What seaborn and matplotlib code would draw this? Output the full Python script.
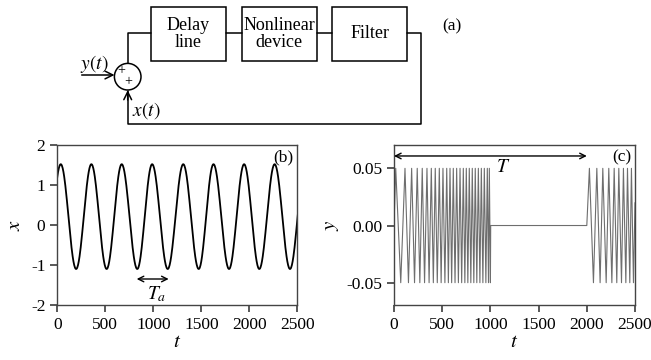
import numpy as np
import pandas as pd
import matplotlib
matplotlib.use("Agg")
import matplotlib.pyplot as plt
from matplotlib.patches import Rectangle, Circle
import seaborn as sns

# ---------------- data ----------------
# panel (b): extrema of x(t) (times and values); virtual extrema just outside [0, 2500]
tb_ext = [-124, 36, 196, 355, 514, 671, 833, 988, 1150, 1312, 1473, 1627, 1789, 1946, 2104, 2264, 2424, 2582]
xb_ext = [-1.10, 1.52, -1.10, 1.52, -1.10, 1.52, -1.10, 1.52, -1.10, 1.52, -1.10, 1.52, -1.10, 1.52, -1.10, 1.52, -1.10, 1.52]

# panel (c): sampled chirp bursts, turning points (t, y)
tc_pts = [0, 18, 70, 114, 150, 183, 213, 241, 268, 293, 317, 342, 364, 387, 408, 428, 449,
          470, 489, 508, 528, 547, 564, 581, 598, 615, 633, 650, 668, 685, 702, 719, 735,
          750, 766, 781, 797, 812, 828, 843, 859, 875, 891, 906, 922, 937, 953, 968, 980,
          989, 1000, 1003, 2000, 2027, 2069, 2104, 2138, 2166, 2201, 2228, 2260, 2284, 2311,
          2332, 2360, 2380, 2405, 2422, 2446, 2463, 2484, 2500]
yc_pts = [0.0, 0.05, -0.05, 0.05, -0.05, 0.05, -0.05, 0.05, -0.05, 0.05, -0.05, 0.05, -0.05,
          0.05, -0.05, 0.05, -0.05, 0.05, -0.05, 0.05, -0.05, 0.05, -0.05, 0.05, -0.05, 0.05,
          -0.05, 0.05, -0.05, 0.05, -0.05, 0.05, -0.05, 0.05, -0.05, 0.05, -0.05, 0.05, -0.05,
          0.05, -0.05, 0.05, -0.05, 0.05, -0.05, 0.05, -0.05, 0.05, -0.05, 0.05, -0.05, 0.0,
          0.0, 0.05, -0.05, 0.05, -0.05, 0.05, -0.05, 0.05, -0.05, 0.05, -0.05, 0.05, -0.05,
          0.05, -0.05, 0.05, -0.05, 0.05, -0.05, 0.02]

x_ticks = [0, 500, 1000, 1500, 2000, 2500]
yb_ticks = [-2, -1, 0, 1, 2]
yc_ticks = [-0.05, 0.00, 0.05]
block_labels = ["Delay\nline", "Nonlinear\ndevice", "Filter"]

# smooth half-cosine shape between read extrema of panel (b)
tb_dense, xb_dense = [], []
for i in range(len(tb_ext) - 1):
    s = np.linspace(0, 1, 40, endpoint=False)
    tb_dense.append(tb_ext[i] + s * (tb_ext[i + 1] - tb_ext[i]))
    xb_dense.append(xb_ext[i] + (xb_ext[i + 1] - xb_ext[i]) * (1 - np.cos(np.pi * s)) / 2)
df_b = pd.DataFrame({"t": np.concatenate(tb_dense), "x": np.concatenate(xb_dense)})
df_c = pd.DataFrame({"t": tc_pts, "y": yc_pts})

# ---------------- style ----------------
sns.set_theme(style="ticks")
plt.rcParams["font.family"] = ["Liberation Serif", "DejaVu Serif"]
plt.rcParams["mathtext.fontset"] = "stix"
spine_col = "#444444"
plt.rcParams.update({
    "axes.edgecolor": spine_col, "axes.linewidth": 1.0,
    "xtick.color": spine_col, "ytick.color": spine_col,
    "xtick.labelcolor": "black", "ytick.labelcolor": "black",
    "text.color": "black", "axes.labelcolor": "black",
    "axes.unicode_minus": False,
    "xtick.major.size": 5, "ytick.major.size": 5,
    "xtick.labelsize": 12.5, "ytick.labelsize": 12.5,
})

fig = plt.figure(figsize=(6.51, 3.60), dpi=100)

# ---------------- (a) block diagram in pixel coordinates ----------------
ax0 = fig.add_axes([0, 0, 1, 1])
ax0.set_xlim(0, 651)
ax0.set_ylim(360, 0)
ax0.axis("off")
lw = 1.1
box_x = [150.7, 241.7, 332.3]
box_w = 75.0
for bx, lab in zip(box_x, block_labels):
    ax0.add_patch(Rectangle((bx, 7.3), box_w, 53.4, fill=False, lw=lw, ec="black"))
    ax0.text(bx + box_w / 2, 34, lab, ha="center", va="center", fontsize=13,
             linespacing=1.05)
# connections
ax0.plot([127.7, 127.7, 150.7], [63.4, 33.3, 33.3], color="black", lw=lw)
ax0.plot([225.7, 241.7], [33.3, 33.3], color="black", lw=lw)
ax0.plot([316.7, 332.3], [33.3, 33.3], color="black", lw=lw)
ax0.plot([407.3, 420.7, 420.7, 127.7, 127.7], [33.3, 33.3, 124, 124, 91], color="black", lw=lw)
ax0.annotate("", xy=(127.7, 90.2), xytext=(127.7, 100),
             arrowprops=dict(arrowstyle="->", lw=lw, color="black", shrinkA=0, shrinkB=0,
                             mutation_scale=14))
ax0.annotate("", xy=(114.5, 75), xytext=(81.7, 75),
             arrowprops=dict(arrowstyle="->", lw=lw, color="black", shrinkA=0, shrinkB=0,
                             mutation_scale=14))
ax0.add_patch(Circle((127.7, 76.7), 13.3, fill=False, lw=lw, ec="black"))
ax0.text(121, 71, "+", ha="center", va="center", fontsize=10)
ax0.text(128.5, 81.5, "+", ha="center", va="center", fontsize=10)
ax0.text(94, 64, r"$y(t)$", ha="center", va="center", fontsize=14)
ax0.text(132, 111, r"$x(t)$", ha="left", va="center", fontsize=14)
ax0.text(452, 26, "(a)", ha="center", va="center", fontsize=12.5)

# ---------------- (b) ----------------
axb = fig.add_axes([57.3 / 651, 1 - 305 / 360, 240 / 651, 160 / 360])
sns.lineplot(data=df_b, x="t", y="x", ax=axb, color="black", lw=1.3,
             estimator=None, sort=False)
axb.set_xlim(0, 2500)
axb.set_ylim(-2, 2)
axb.set_xticks(x_ticks)
axb.set_yticks(yb_ticks)
axb.set_xlabel(r"$t$", fontsize=15, labelpad=0)
axb.set_ylabel(r"$x$", fontsize=15, labelpad=4)
axb.text(0.985, 0.975, "(b)", transform=axb.transAxes, ha="right", va="top", fontsize=12.5)
axb.annotate("", xy=(827, -1.35), xytext=(1160, -1.35),
             arrowprops=dict(arrowstyle="<->", lw=1.0, color="black", shrinkA=0, shrinkB=0,
                             mutation_scale=10))
axb.text(1030, -1.72, r"$T_a$", ha="center", va="center", fontsize=14)

# ---------------- (c) ----------------
axc = fig.add_axes([394 / 651, 1 - 305 / 360, 241 / 651, 160 / 360])
sns.lineplot(data=df_c, x="t", y="y", ax=axc, color="#6e6e6e", lw=0.8,
             estimator=None, sort=False)
axc.set_xlim(0, 2500)
axc.set_ylim(-0.0695, 0.0704)
axc.set_xticks(x_ticks)
axc.set_yticks(yc_ticks)
axc.set_yticklabels([f"{v:.2f}" for v in yc_ticks])
axc.set_xlabel(r"$t$", fontsize=15, labelpad=0)
axc.set_ylabel(r"$y$", fontsize=15, labelpad=4)
axc.text(0.985, 0.975, "(c)", transform=axc.transAxes, ha="right", va="top", fontsize=12.5)
axc.annotate("", xy=(0, 0.0608), xytext=(2000, 0.0608),
             arrowprops=dict(arrowstyle="<->", lw=1.0, color="black", shrinkA=0, shrinkB=0,
                             mutation_scale=10))
axc.text(1128, 0.0505, r"$T$", ha="center", va="center", fontsize=14)

fig.savefig("out.png", dpi=100)
